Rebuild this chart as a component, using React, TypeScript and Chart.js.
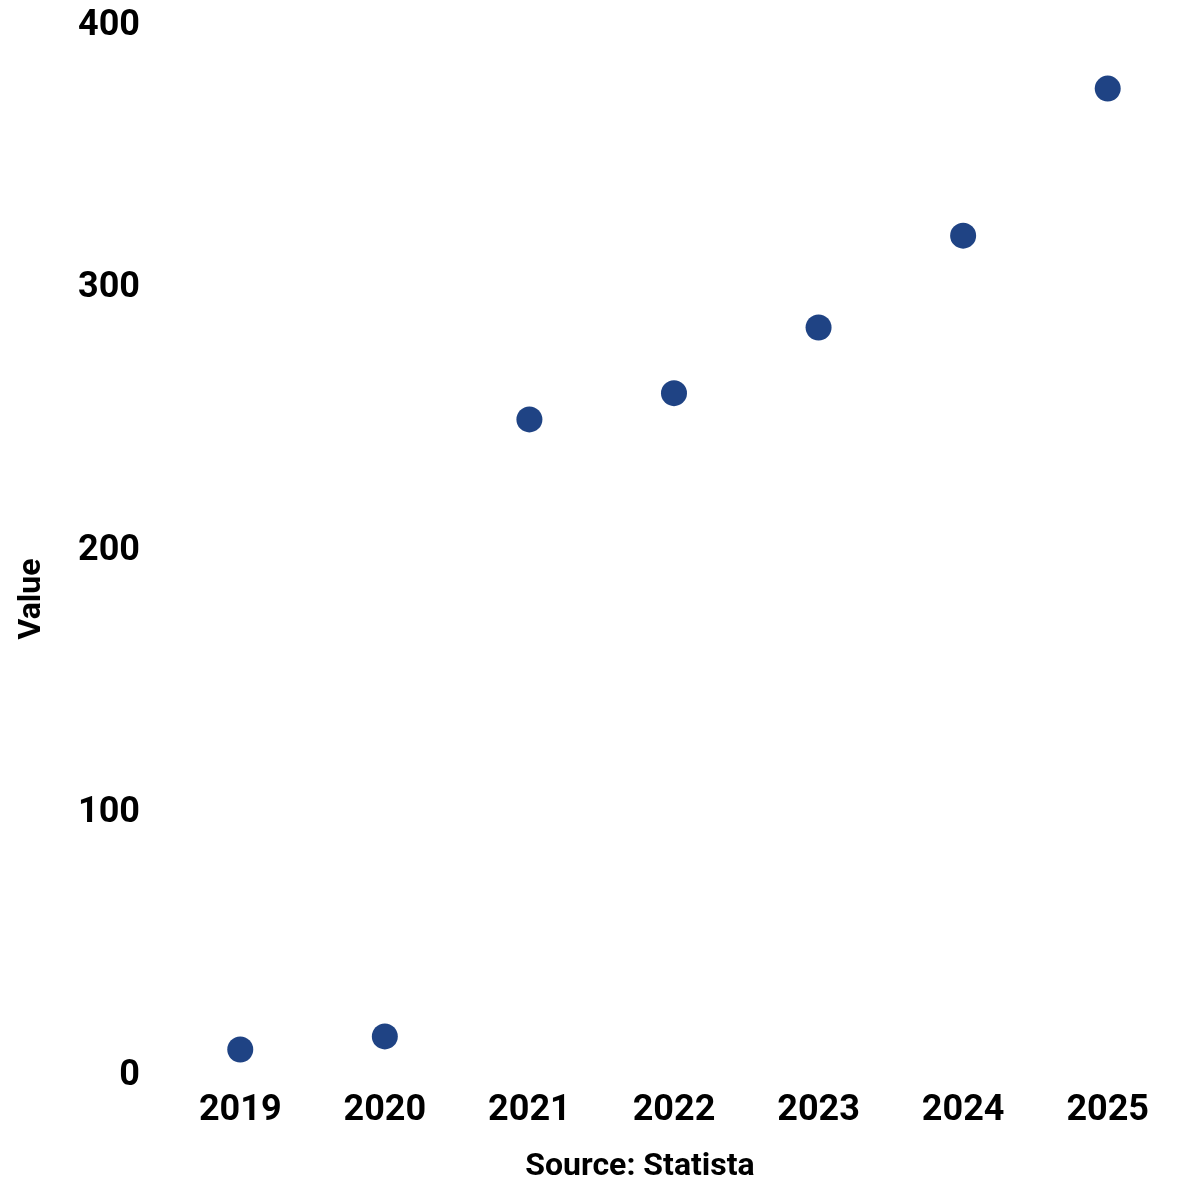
import React, { useEffect, useRef } from "react";
import { Chart, registerables } from "chart.js";

Chart.register(...registerables);

const categories = ["2019", "2020", "2021", "2022", "2023", "2024", "2025"];
const values = [10, 15, 250, 260, 285, 320, 376];
const yTicks = [0, 100, 200, 300, 400];
const yTitle = "Value";
const xTitle = "Source: Statista";

const FONT = "Roboto, 'Open Sans', sans-serif";
const SHIFT = 24;

const titlesPlugin = {
  id: "titles",
  afterDraw(chart: any) {
    const ctx = chart.ctx;
    ctx.save();
    ctx.fillStyle = "#000";
    ctx.font = `bold 32px ${FONT}`;
    ctx.textAlign = "center";
    ctx.textBaseline = "middle";
    ctx.fillText(xTitle, 640, 1167 + SHIFT);
    ctx.translate(32, 599 + SHIFT);
    ctx.rotate(-Math.PI / 2);
    ctx.fillText(yTitle, 0, 0);
    ctx.restore();
  },
};

export default function App() {
  const ref = useRef<HTMLCanvasElement | null>(null);
  useEffect(() => {
    if (!ref.current) return;
    const chart = new Chart(ref.current, {
      type: "line",
      data: {
        labels: categories,
        datasets: [
          {
            label: "Value",
            data: values,
            showLine: false,
            pointRadius: 13,
            pointHoverRadius: 13,
            pointBackgroundColor: "#1f4384",
            pointBorderColor: "#1f4384",
            pointBorderWidth: 0,
            borderColor: "#1f4384",
            backgroundColor: "#1f4384",
          },
        ],
      },
      plugins: [titlesPlugin],
      options: {
        responsive: false,
        animation: false,
        devicePixelRatio: 1,
        layout: { autoPadding: false, padding: { top: 0, right: 20, left: 50, bottom: 53 } },
        plugins: { legend: { display: false }, tooltip: { enabled: false } },
        scales: {
          x: {
            offset: true,
            grid: { display: false, drawTicks: false },
            border: { display: false },
            ticks: {
              color: "#000",
              font: { family: FONT, size: 36, weight: "bold" },
              padding: 14,
              maxRotation: 0,
            },
          },
          y: {
            min: 0,
            max: 400,
            afterBuildTicks: (axis: any) => {
              axis.ticks = yTicks.map((v) => ({ value: v }));
            },
            grid: { display: false, drawTicks: false },
            border: { display: false },
            ticks: {
              color: "#000",
              font: { family: FONT, size: 36, weight: "bold" },
              padding: 28,
            },
          },
        },
      },
    });
    return () => chart.destroy();
  }, []);
  return (
    <div style={{ position: "absolute", left: 0, top: 0, width: 1200, height: 1200, background: "#fff", overflow: "hidden" }}>
      <canvas
        ref={ref}
        width={1200}
        height={1200 + SHIFT}
        style={{ position: "absolute", left: 0, top: -SHIFT, width: 1200, height: 1200 + SHIFT, display: "block" }}
      />
    </div>
  );
}
